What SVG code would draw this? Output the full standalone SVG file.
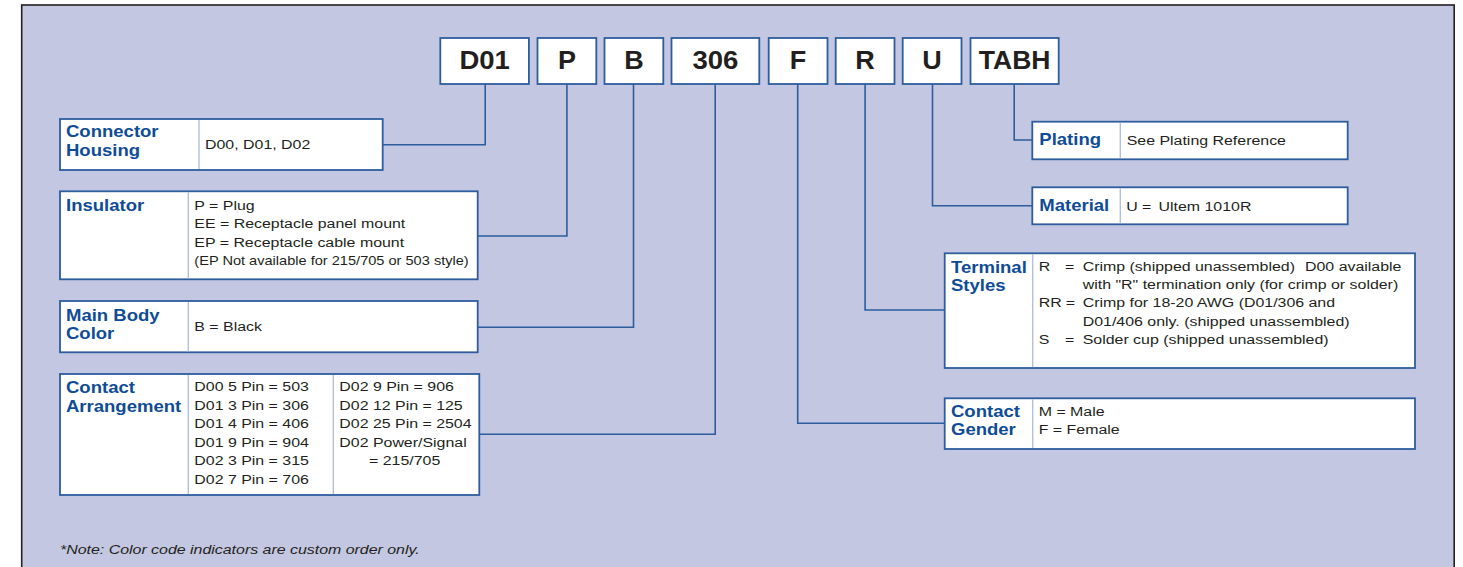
<svg xmlns="http://www.w3.org/2000/svg" width="1463" height="567" viewBox="0 0 1463 567">
<style>
.bg{fill:#c3c7e1;stroke:#231f20;stroke-width:1.6}
.box{fill:#ffffff;stroke:#2d5d9f;stroke-width:1.8}
.div{stroke:#b3bfe0;stroke-width:1.4}
.code{font-family:"Liberation Sans",Arial,sans-serif;font-weight:bold;font-size:25px;fill:#231f20;text-anchor:middle}
.ttl{font-family:"Liberation Sans",Arial,sans-serif;font-weight:bold;font-size:15.7px;fill:#0f4c97}
.val{font-family:"Liberation Sans",Arial,sans-serif;font-size:13.5px;fill:#231f20}
.note{font-family:"Liberation Sans",Arial,sans-serif;font-size:13.5px;font-style:italic;fill:#231f20}
.conn{fill:none;stroke:#2d5d9f;stroke-width:1.6}
</style>
<rect class="bg" x="21.7" y="5" width="1432.5" height="570"/>

<g id="connectors">
<path class="conn" d="M485.2 84V144.7H382.7"/>
<path class="conn" d="M566.9 84V236H477.7"/>
<path class="conn" d="M633.5 84V327.3H477.7"/>
<path class="conn" d="M715.2 84V434.3H479.3"/>
<path class="conn" d="M797.7 84V423.3H944.7"/>
<path class="conn" d="M865.1 84V310H944.7"/>
<path class="conn" d="M932.5 84V205.7H1032.3"/>
<path class="conn" d="M1014.2 84V140H1032.3"/>
</g>

<g id="code-D01"><rect class="box" x="440.3" y="38" width="88.6" height="46"/><text class="code" transform="translate(484.6 68.7) scale(1.1 1)">D01</text></g>
<g id="code-P"><rect class="box" x="537.5" y="38" width="58.8" height="46"/><text class="code" transform="translate(566.9 68.7) scale(1.08 1)">P</text></g>
<g id="code-B"><rect class="box" x="604.5" y="38" width="58.8" height="46"/><text class="code" transform="translate(633.9 68.7) scale(1.08 1)">B</text></g>
<g id="code-306"><rect class="box" x="671.5" y="38" width="87.8" height="46"/><text class="code" transform="translate(715.4 68.7) scale(1.1 1)">306</text></g>
<g id="code-F"><rect class="box" x="768.7" y="38" width="58.8" height="46"/><text class="code" transform="translate(798.1 68.7) scale(1.08 1)">F</text></g>
<g id="code-R"><rect class="box" x="835.7" y="38" width="58.8" height="46"/><text class="code" transform="translate(865.1 68.7) scale(1.08 1)">R</text></g>
<g id="code-U"><rect class="box" x="902.7" y="38" width="58.8" height="46"/><text class="code" transform="translate(932.1 68.7) scale(1.08 1)">U</text></g>
<g id="code-TABH"><rect class="box" x="970.5" y="38" width="88.2" height="46"/><text class="code" transform="translate(1014.6 68.7) scale(1.06 1)">TABH</text></g>

<g id="connector-housing">
<rect class="box" x="60" y="119" width="322.7" height="51"/>
<line class="div" x1="199" y1="120" x2="199" y2="169"/>
<text class="ttl" transform="translate(66 136.7) scale(1.18 1)"><tspan x="0" y="0">Connector</tspan><tspan x="0" y="19.3">Housing</tspan></text>
<text class="val" transform="translate(205 149) scale(1.18 1)">D00, D01, D02</text>
</g>

<g id="insulator">
<rect class="box" x="60" y="191.3" width="417.7" height="88"/>
<line class="div" x1="188.3" y1="192.3" x2="188.3" y2="278.3"/>
<text class="ttl" transform="translate(66 211) scale(1.18 1)">Insulator</text>
<text class="val" transform="translate(194.3 210) scale(1.18 1)"><tspan x="0" y="0">P = Plug</tspan><tspan x="0" y="18.4">EE = Receptacle panel mount</tspan><tspan x="0" y="36.8">EP = Receptacle cable mount</tspan></text>
<text class="val" transform="translate(194.3 265.2) scale(1.08 1)">(EP Not available for 215/705 or 503 style)</text>
</g>

<g id="main-body-color">
<rect class="box" x="60" y="301" width="417.7" height="51.3"/>
<line class="div" x1="188.3" y1="302" x2="188.3" y2="351.3"/>
<text class="ttl" transform="translate(66 321) scale(1.18 1)"><tspan x="0" y="0">Main Body</tspan><tspan x="0" y="18.3">Color</tspan></text>
<text class="val" transform="translate(194.3 330.7) scale(1.18 1)">B = Black</text>
</g>

<g id="contact-arrangement">
<rect class="box" x="60" y="374" width="419.3" height="121"/>
<line class="div" x1="188.3" y1="375" x2="188.3" y2="494"/>
<line class="div" x1="333.3" y1="375" x2="333.3" y2="494"/>
<text class="ttl" transform="translate(66 392.7) scale(1.18 1)"><tspan x="0" y="0">Contact</tspan><tspan x="0" y="19">Arrangement</tspan></text>
<text class="val" transform="translate(194.3 391) scale(1.18 1)"><tspan x="0" y="0">D00 5 Pin = 503</tspan><tspan x="0" y="18.6">D01 3 Pin = 306</tspan><tspan x="0" y="37.2">D01 4 Pin = 406</tspan><tspan x="0" y="55.8">D01 9 Pin = 904</tspan><tspan x="0" y="74.4">D02 3 Pin = 315</tspan><tspan x="0" y="93">D02 7 Pin = 706</tspan></text>
<text class="val" transform="translate(339.3 391) scale(1.18 1)"><tspan x="0" y="0">D02 9 Pin = 906</tspan><tspan x="0" y="18.6">D02 12 Pin = 125</tspan><tspan x="0" y="37.2">D02 25 Pin = 2504</tspan><tspan x="0" y="55.8">D02 Power/Signal</tspan><tspan x="25.2" y="74.4">= 215/705</tspan></text>
</g>

<g id="plating">
<rect class="box" x="1032.3" y="121.7" width="315.4" height="37.6"/>
<line class="div" x1="1120.3" y1="122.7" x2="1120.3" y2="158.3"/>
<text class="ttl" transform="translate(1039.3 145) scale(1.18 1)">Plating</text>
<text class="val" transform="translate(1126.7 145.3) scale(1.18 1)">See Plating Reference</text>
</g>

<g id="material">
<rect class="box" x="1032.3" y="187.3" width="315.4" height="37"/>
<line class="div" x1="1120.3" y1="188.3" x2="1120.3" y2="223.3"/>
<text class="ttl" transform="translate(1039.3 211) scale(1.18 1)">Material</text>
<text class="val" transform="translate(1126.2 211) scale(1.18 1)"><tspan x="0" y="0">U =</tspan><tspan x="27.4" y="0">Ultem 1010R</tspan></text>
</g>

<g id="terminal-styles">
<rect class="box" x="944.7" y="253.3" width="470.3" height="114.7"/>
<line class="div" x1="1032.7" y1="254.3" x2="1032.7" y2="367"/>
<text class="ttl" transform="translate(951 273.3) scale(1.18 1)"><tspan x="0" y="0">Terminal</tspan><tspan x="0" y="17.7">Styles</tspan></text>
<text class="val" transform="translate(1038.7 270.7) scale(1.18 1)"><tspan x="0" y="0">R</tspan><tspan x="22.3" y="0">=</tspan><tspan x="37.3" y="0">Crimp (shipped unassembled)</tspan><tspan x="225.7" y="0">D00 available</tspan><tspan x="37.3" y="18.4">with "R" termination only (for crimp or solder)</tspan><tspan x="0" y="36.8">RR</tspan><tspan x="23" y="36.8">=</tspan><tspan x="37.3" y="36.8">Crimp for 18-20 AWG (D01/306 and</tspan><tspan x="37.3" y="55.2">D01/406 only. (shipped unassembled)</tspan><tspan x="0" y="73.6">S</tspan><tspan x="22.3" y="73.6">=</tspan><tspan x="37.3" y="73.6">Solder cup (shipped unassembled)</tspan></text>
</g>

<g id="contact-gender">
<rect class="box" x="944.7" y="398.3" width="470.3" height="50.7"/>
<line class="div" x1="1032.7" y1="399.3" x2="1032.7" y2="448"/>
<text class="ttl" transform="translate(951 416.7) scale(1.18 1)"><tspan x="0" y="0">Contact</tspan><tspan x="0" y="18.3">Gender</tspan></text>
<text class="val" transform="translate(1038.7 415.7) scale(1.18 1)"><tspan x="0" y="0">M = Male</tspan><tspan x="0" y="18.3">F = Female</tspan></text>
</g>

<text id="note" class="note" transform="translate(60 554) scale(1.18 1)">*Note: Color code indicators are custom order only.</text>
</svg>
